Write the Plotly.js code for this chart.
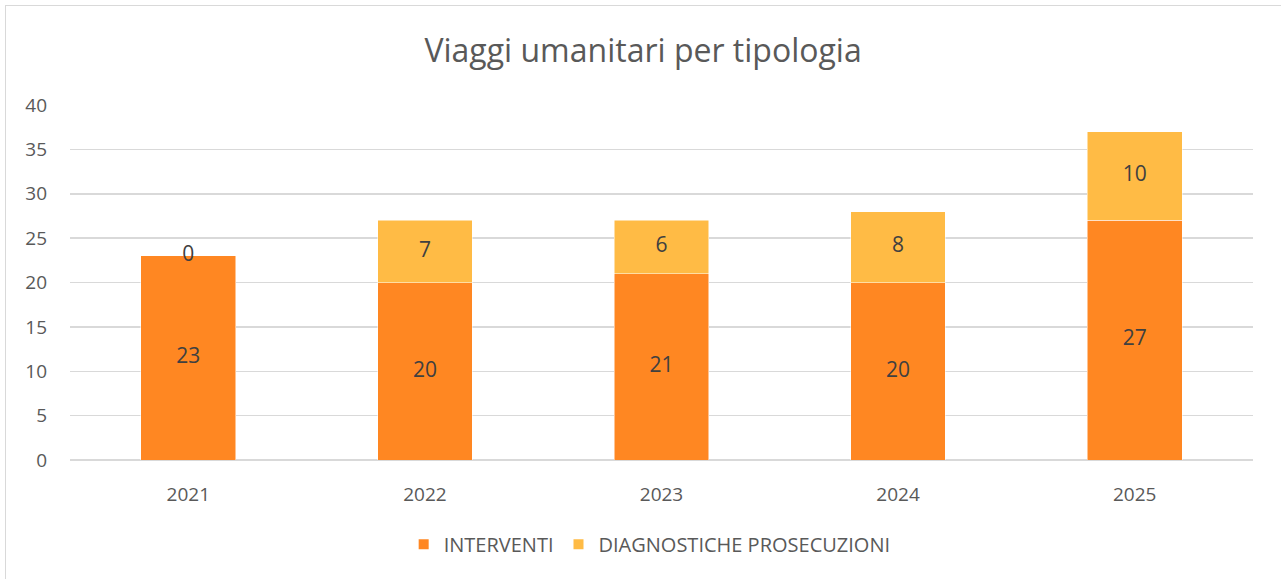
<!DOCTYPE html>
<html>
<head>
<meta charset="utf-8">
<script src="https://cdn.plot.ly/plotly-3.0.1.min.js"></script>
<style>
  html, body { margin: 0; padding: 0; background: #fff; }
  #wrap { position: relative; width: 1281px; height: 579px; overflow: hidden; }
  #chart { position: absolute; left: 0; top: 0; width: 1281px; height: 579px; }
  #frame { position: absolute; left: 5px; top: 5px; width: 1300px; height: 600px;
           border: 1.5px solid #d9d9d9; pointer-events: none; }
</style>
</head>
<body>
<div id="wrap">
  <div id="chart"></div>
  <div id="frame"></div>
</div>
<script>
const years = ["2021", "2022", "2023", "2024", "2025"];
const interventi = [23, 20, 21, 20, 27];
const diagnostiche = [0, 7, 6, 8, 10];
const seriesNames = ["INTERVENTI", "DIAGNOSTICHE PROSECUZIONI"];
const titleText = "Viaggi umanitari per tipologia";

const FONT = "'Open Sans', sans-serif";
const TXT = "#595959";
const LBL = "#404040";

const traces = [
  { type: "bar", x: years, y: interventi, name: seriesNames[0],
    marker: { color: "#FF8722", line: { color: "#ffffff", width: 0.5 } },
    hoverinfo: "skip" },
  { type: "bar", x: years, y: diagnostiche, name: seriesNames[1],
    marker: { color: "#FFBB45", line: { color: "#ffffff", width: 0.5 } },
    hoverinfo: "skip" },
  { type: "scatter", mode: "text", x: years, y: interventi.map(v => v / 2),
    text: interventi.map(String), showlegend: false, hoverinfo: "skip",
    textfont: { family: FONT, size: 21, color: LBL } },
  { type: "scatter", mode: "text", x: years,
    y: interventi.map((v, i) => v + diagnostiche[i] / 2),
    text: diagnostiche.map(String), showlegend: false, hoverinfo: "skip",
    textfont: { family: FONT, size: 21, color: LBL } }
];

const layout = {
  width: 1281, height: 579,
  margin: { l: 70, r: 28, t: 105, b: 119 },
  paper_bgcolor: "rgba(0,0,0,0)", plot_bgcolor: "#fff",
  barmode: "stack", bargap: 0.6,
  font: { family: FONT, color: TXT },
  title: { text: titleText, x: 0.502, xanchor: "center", y: 0.912, yanchor: "middle",
           font: { family: FONT, size: 32, color: TXT } },
  xaxis: { type: "category", showgrid: false, zeroline: false, showline: false,
           ticks: "", tickfont: { family: FONT, size: 19, color: TXT },
           ticklabelstandoff: 21, fixedrange: true },
  yaxis: { range: [0, 40], dtick: 5, showgrid: true, gridcolor: "#d9d9d9", gridwidth: 1.5,
           zeroline: true, zerolinecolor: "#d9d9d9", zerolinewidth: 1.5, showline: false,
           ticks: "", tickfont: { family: FONT, size: 19, color: TXT },
           ticklabelstandoff: 22, fixedrange: true },
  legend: { orientation: "h", x: 0.49, xanchor: "center", y: -0.237, yanchor: "middle",
            font: { family: FONT, size: 20, color: TXT }, itemsizing: "constant",
            traceorder: "normal", itemwidth: 30 },
  showlegend: true
};

Plotly.newPlot("chart", traces, layout, { displayModeBar: false, staticPlot: true });
</script>
</body>
</html>
